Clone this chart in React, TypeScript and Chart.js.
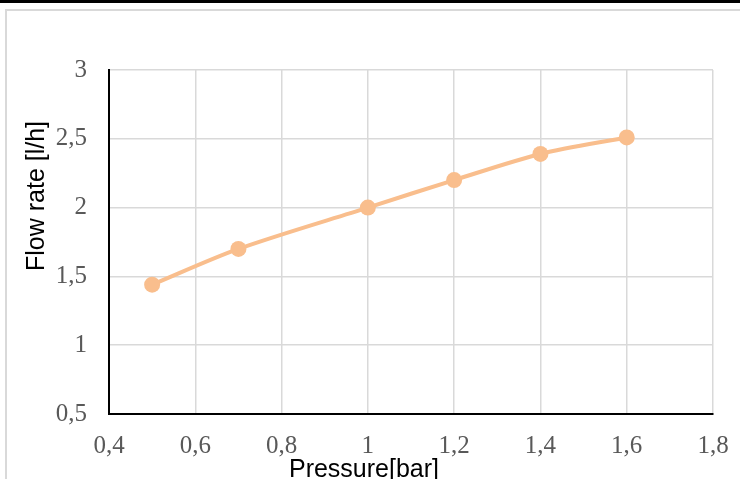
import React, { useEffect, useRef } from 'react';
import { Chart, registerables } from 'chart.js';

Chart.register(...registerables);

// ---- data ----
const pressure = [0.5, 0.7, 1.0, 1.2, 1.4, 1.6];
const flowRate = [1.44, 1.7, 2.0, 2.2, 2.39, 2.51];

// ---- axis ticks ----
const xTickValues = [0.4, 0.6, 0.8, 1.0, 1.2, 1.4, 1.6, 1.8];
const yTickValues = [0.5, 1.0, 1.5, 2.0, 2.5, 3.0];

const xTitle = 'Pressure[bar]';
const yTitle = 'Flow rate [l/h]';

const LINE_COLOR = '#F9BE8D';
const GRID_COLOR = '#D9D9D9';
const TICK_COLOR = '#595959';

const fmt = (v: number) => String(Math.round(v * 10) / 10).replace('.', ',');

export default function App() {
  const ref = useRef<HTMLCanvasElement>(null);

  useEffect(() => {
    if (!ref.current) return;

    const axisTitles = {
      id: 'axisTitles',
      afterDraw(chart: any) {
        const { ctx, chartArea } = chart;
        ctx.save();
        ctx.fillStyle = '#000';
        ctx.font = '25px "Liberation Sans", Arial, sans-serif';
        ctx.textAlign = 'center';
        ctx.textBaseline = 'alphabetic';
        // x title
        ctx.fillText(xTitle, chartArea.left + 255, chartArea.bottom + 63);
        // y title
        ctx.translate(chartArea.left - 65, chartArea.top + 126);
        ctx.rotate(-Math.PI / 2);
        ctx.fillText(yTitle, 0, 0);
        ctx.restore();
      },
    };

    const tickFont = { family: '"Liberation Serif", "DejaVu Serif", serif', size: 25 };

    const chart = new Chart(ref.current, {
      type: 'line',
      data: {
        datasets: [
          {
            data: pressure.map((p, i) => ({ x: p, y: flowRate[i] })),
            borderColor: LINE_COLOR,
            backgroundColor: LINE_COLOR,
            borderWidth: 4,
            pointRadius: 8,
            pointBorderWidth: 0,
            pointHoverRadius: 8,
            tension: 0.3,
            fill: false,
          },
        ],
      },
      options: {
        responsive: false,
        animation: false,
        devicePixelRatio: 1,
        layout: { padding: { top: 70, right: 27, left: 0, bottom: 0 } },
        plugins: {
          legend: { display: false },
          tooltip: { enabled: false },
        },
        scales: {
          x: {
            type: 'linear',
            min: 0.4,
            max: 1.8,
            afterBuildTicks: (s: any) => {
              s.ticks = xTickValues.map((v) => ({ value: v }));
            },
            afterFit: (s: any) => {
              s.height = 65;
              s.paddingRight = 0;
              s.paddingLeft = 0;
            },
            grid: { color: GRID_COLOR, lineWidth: 1.5, drawTicks: false },
            border: { color: '#000', width: 2 },
            ticks: {
              font: tickFont,
              color: TICK_COLOR,
              padding: 17,
              maxRotation: 0,
              autoSkip: false,
              callback: (v: any) => fmt(Number(v)),
            },
          },
          y: {
            type: 'linear',
            min: 0.5,
            max: 3,
            afterBuildTicks: (s: any) => {
              s.ticks = yTickValues.map((v) => ({ value: v }));
            },
            afterFit: (s: any) => {
              s.width = 109;
              s.paddingTop = 0;
              s.paddingBottom = 0;
            },
            grid: { color: GRID_COLOR, lineWidth: 1.5, drawTicks: false },
            border: { color: '#000', width: 2 },
            ticks: {
              font: tickFont,
              color: TICK_COLOR,
              padding: 22,
              autoSkip: false,
              callback: (v: any) => fmt(Number(v)),
            },
          },
        },
      },
      plugins: [axisTitles],
    } as any);

    return () => chart.destroy();
  }, []);

  return (
    <div
      style={{
        position: 'fixed',
        left: 0,
        top: 0,
        width: 740,
        height: 479,
        background: '#fff',
        overflow: 'hidden',
      }}
    >
      <div style={{ position: 'absolute', left: 0, top: 0, width: 740, height: 3, background: '#000' }} />
      <div
        style={{
          position: 'absolute',
          left: 5,
          top: 9,
          width: 800,
          height: 600,
          borderTop: '2px solid #D9D9D9',
          borderLeft: '2px solid #D9D9D9',
        }}
      />
      <canvas
        ref={ref}
        width={740}
        height={479}
        style={{ position: 'absolute', left: 0, top: 0, width: 740, height: 479 }}
      />
    </div>
  );
}
